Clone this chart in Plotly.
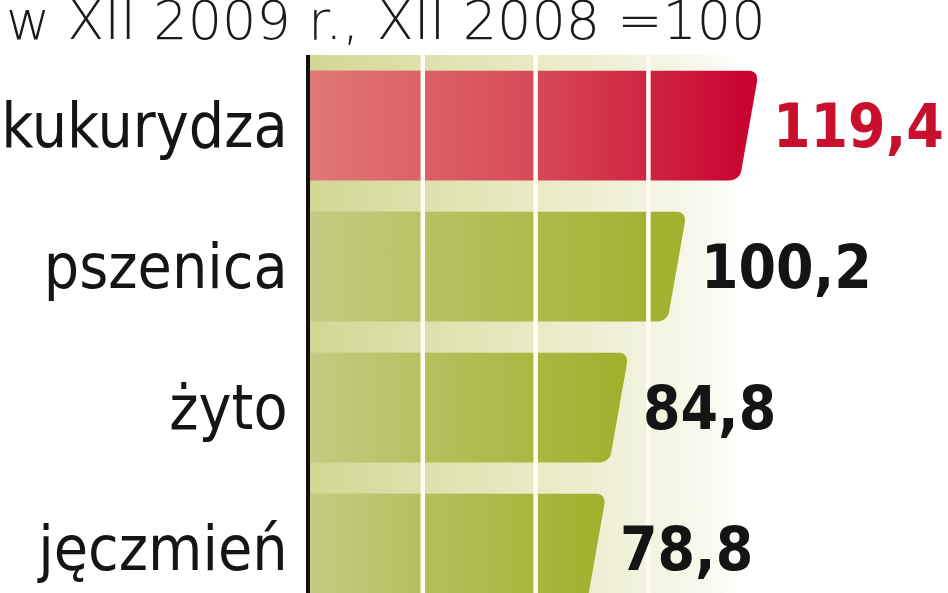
import plotly.graph_objects as go

# ---- data ----
categories = ["kukurydza", "pszenica", "żyto", "jęczmień"]
values = [119.4, 100.2, 84.8, 78.8]
value_labels = ["119,4", "100,2", "84,8", "78,8"]
highlight = [True, False, False, False]
grid_ticks = [30, 60, 90]
title_text = "w XII 2009 r., XII 2008 =100"

# ---- layout geometry (styles) ----
W, H = 948, 593
ML, MT = 310, 55
PX_X = 3.76          # px per unit on x
PX_Y = 141.0         # px per category
x_max = (W - ML) / PX_X
y_bottom = -0.5 + (H - MT) / PX_Y
BAR_HALF_PX = 55
SLANT_PX = 19
RADIUS_PX = 12

RED_SCALE = [[0, "#df7878"], [0.5, "#d74a57"], [1, "#c8002f"]]
GREEN_SCALE = [[0, "#c4cb82"], [0.5, "#b1bc52"], [1, "#9fb12c"]]
BG_SCALE = [[0, "#d2d794"], [0.35, "#e1e4b4"], [0.7, "#eff0d6"], [0.9, "#f8f8ec"], [1, "#ffffff"]]

LABEL_FONT = "DejaVu Sans Condensed, Roboto, sans-serif"


def rounded_poly(pts, radii, steps=6):
    out = []
    n = len(pts)
    for k in range(n):
        p = pts[k]
        r = radii[k]
        if r <= 0:
            out.append(p)
            continue
        a = pts[k - 1]
        b = pts[(k + 1) % n]

        def towards(p0, p1, d):
            dx, dy = p1[0] - p0[0], p1[1] - p0[1]
            ln = (dx * dx + dy * dy) ** 0.5
            return (p0[0] + dx / ln * d, p0[1] + dy / ln * d)
        s = towards(p, a, r)
        e = towards(p, b, r)
        for t in range(steps + 1):
            u = t / steps
            x = (1 - u) ** 2 * s[0] + 2 * (1 - u) * u * p[0] + u ** 2 * e[0]
            y = (1 - u) ** 2 * s[1] + 2 * (1 - u) * u * p[1] + u ** 2 * e[1]
            out.append((x, y))
    out.append(out[0])
    return out


fig = go.Figure()

# background gradient band
fig.add_trace(go.Scatter(
    x=[0, 115, 115, 0, 0], y=[-0.5, -0.5, 3.6, 3.6, -0.5],
    fill="toself", mode="lines", line=dict(width=0),
    fillgradient=dict(type="horizontal", colorscale=BG_SCALE, start=0, stop=115),
    hoverinfo="skip", showlegend=False,
))

for i, (cat, v, hl) in enumerate(zip(categories, values, highlight)):
    L = v * PX_X
    pts = [(0, -BAR_HALF_PX), (L, -BAR_HALF_PX), (L - SLANT_PX, BAR_HALF_PX), (0, BAR_HALF_PX)]
    poly = rounded_poly(pts, [0, RADIUS_PX, RADIUS_PX, 0])
    xs = [p[0] / PX_X for p in poly]
    ys = [i + p[1] / PX_Y for p in poly]
    fig.add_trace(go.Scatter(
        x=xs, y=ys, fill="toself", mode="lines", line=dict(width=0),
        fillgradient=dict(type="horizontal", colorscale=RED_SCALE if hl else GREEN_SCALE),
        hoverinfo="skip", showlegend=False,
    ))

# white grid lines above bars
for g in grid_ticks:
    fig.add_shape(type="line", xref="x", yref="paper", x0=g, x1=g, y0=0, y1=1,
                  line=dict(color="#fffdf4", width=4.5), layer="above")

# value labels
for i, (v, lab, hl) in enumerate(zip(values, value_labels, highlight)):
    fig.add_annotation(
        x=v, y=i, text=lab, showarrow=False, xanchor="left", yanchor="middle",
        xshift=12,
        font=dict(family=LABEL_FONT, size=60,
                  color="#c8102e" if hl else "#141414", weight="bold"),
    )

# title
fig.add_annotation(
    xref="paper", yref="paper", x=(4 - ML) / (W - ML), y=1 + (MT - 54) / (H - MT),
    xanchor="left", yanchor="bottom", text=title_text, showarrow=False,
    font=dict(family="DejaVu Sans, Roboto, sans-serif", size=54, color="#1a1a1a", weight=200),
)

fig.update_layout(
    width=W, height=H,
    margin=dict(l=ML, r=0, t=MT, b=0, pad=0, autoexpand=False),
    plot_bgcolor="white", paper_bgcolor="white",
    showlegend=False,
    xaxis=dict(range=[0, x_max], showgrid=False, zeroline=False, showticklabels=False,
               ticks="", showline=False, fixedrange=True, automargin=False),
    yaxis=dict(range=[y_bottom, -0.5], tickmode="array", tickvals=list(range(len(categories))),
               ticktext=categories, showgrid=False, zeroline=False, ticks="",
               showline=True, linecolor="#111111", linewidth=4, layer="above traces",
               ticklabelstandoff=6, automargin=False,
               tickfont=dict(family=LABEL_FONT, size=62, color="#151515"),
               fixedrange=True),
)

fig.write_html("out.html", config={"displayModeBar": False},
               post_script="document.body.style.margin='0';document.body.style.overflow='hidden';")
